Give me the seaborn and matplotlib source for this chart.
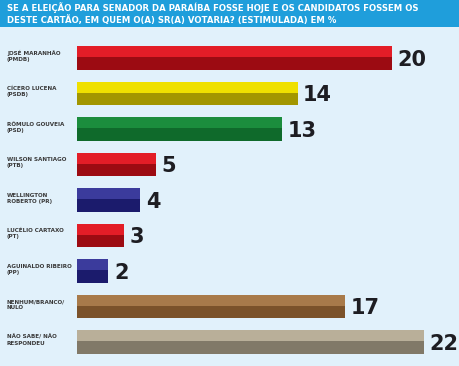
import matplotlib
matplotlib.use("Agg")
import matplotlib.pyplot as plt
import matplotlib.transforms as mtransforms
from matplotlib.patches import Rectangle
import seaborn as sns
import pandas as pd

names = ["JOSÉ MARANHÃO\n(PMDB)", "CÍCERO LUCENA\n(PSDB)", "RÔMULO GOUVEIA\n(PSD)",
         "WILSON SANTIAGO\n(PTB)", "WELLINGTON\nROBERTO (PR)", "LUCÉLIO CARTAXO\n(PT)",
         "AGUINALDO RIBEIRO\n(PP)", "NENHUM/BRANCO/\nNULO", "NÃO SABE/ NÃO\nRESPONDEU"]
values = [20, 14, 13, 5, 4, 3, 2, 17, 22]
top_colors = ["#e31d27", "#efe000", "#1b8d3d", "#e31d27", "#3b3b9c", "#e31d27", "#3b3b9c", "#a87a4a", "#b9af99"]
bottom_colors = ["#9c0b12", "#a29600", "#0f6a2b", "#9c0b12", "#1b1b6c", "#9c0b12", "#1b1b6c", "#7b522a", "#817968"]
title = ("SE A ELEIÇÃO PARA SENADOR DA PARAÍBA FOSSE HOJE E OS CANDIDATOS FOSSEM OS\n"
         "DESTE CARTÃO, EM QUEM O(A) SR(A) VOTARIA? (ESTIMULADA) EM %")

df = pd.DataFrame({"name": names, "value": values})

sns.set_theme(style="white")
plt.rcParams['font.family'] = ['DejaVu Sans']

W, H = 460, 366
fig = plt.figure(figsize=(W / 100, H / 100), dpi=100)
bg = "#e1f1fb"
fig.patch.set_facecolor(bg)

# header band
fig.patches.append(Rectangle((0, 1 - 27 / H), 1, 27 / H, transform=fig.transFigure,
                             facecolor="#1f9edb", edgecolor="none", zorder=0))
fig.text(7 / W, 1 - 13.5 / H, title, color="white", fontsize=6.1, fontweight="bold",
         ha="left", va="center", linespacing=1.2)

left = 77 / W
unit_px = 15.75
xmax = (W - 77) / unit_px
ax = fig.add_axes([left, (H - 359.75) / H, (W - 77) / W, 319.5 / H])
ax.set_facecolor(bg)

bw = 0.65
sns.barplot(data=df, x="value", y="name", hue="name", palette=bottom_colors,
            orient="h", width=bw, legend=False, ax=ax, saturation=1, linewidth=0)
n_first = len(ax.patches)
sns.barplot(data=df, x="value", y="name", hue="name", palette=top_colors,
            orient="h", width=bw, legend=False, ax=ax, saturation=1, linewidth=0)
for p in ax.patches[n_first:]:
    p.set_height(p.get_height() * 0.47)

ax.set_xlim(0, xmax)
ax.set_ylim(8.5, -0.5)
ax.set_xlabel("")
ax.set_ylabel("")
ax.set_xticks([])
ax.set_yticks([])
for s in ax.spines.values():
    s.set_visible(False)

for i, v in enumerate(values):
    ax.text(v + 0.36, i + 0.05, str(v), va="center", ha="left", fontsize=15,
            fontweight="bold", color="#1d1d22")

trans = mtransforms.blended_transform_factory(fig.transFigure, ax.transData)
for i, nm in enumerate(names):
    ax.text(7 / W, i - 0.05, nm, transform=trans, ha="left", va="center",
            fontsize=4.1, fontweight="bold", color="#3a3a3a", linespacing=1.3)

fig.savefig("out.png", dpi=100, facecolor=bg)
